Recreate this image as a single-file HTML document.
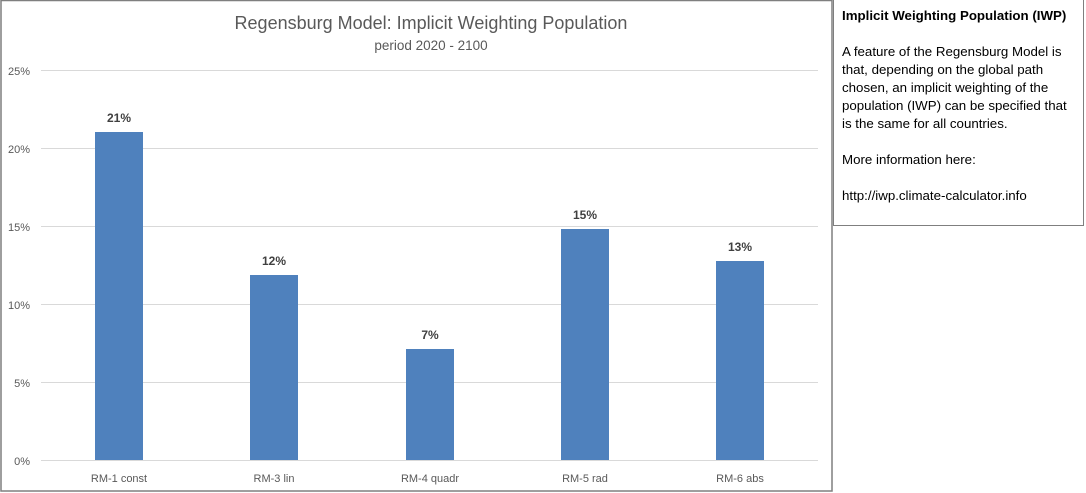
<!DOCTYPE html>
<html><head><style>
html,body{margin:0;padding:0;background:#fff;}
body{width:1086px;height:493px;position:relative;overflow:hidden;font-family:"Liberation Sans",sans-serif;}
.box{position:absolute;left:833px;top:0;width:251px;height:226px;border:1px solid #7f7f7f;border-top:none;box-sizing:border-box;font-size:13.3px;color:#000;padding:7px 8px;line-height:18px;}
</style></head><body>
<svg width="1086" height="493" style="position:absolute;left:0;top:0" font-family="Liberation Sans, sans-serif">
<rect x="1" y="0.5" width="831" height="490.5" fill="#fff" stroke="#7f7f7f" stroke-width="1.5"/>
<text x="431" y="29" text-anchor="middle" font-size="18" fill="#595959">Regensburg Model: Implicit Weighting Population</text>
<text x="431" y="50" text-anchor="middle" font-size="13.5" fill="#595959">period 2020 - 2100</text>
<g stroke="#d9d9d9" stroke-width="1">
<line x1="41" x2="818" y1="70.5" y2="70.5"/>
<line x1="41" x2="818" y1="148.5" y2="148.5"/>
<line x1="41" x2="818" y1="226.5" y2="226.5"/>
<line x1="41" x2="818" y1="304.5" y2="304.5"/>
<line x1="41" x2="818" y1="382.5" y2="382.5"/>
<line x1="41" x2="818" y1="460.5" y2="460.5"/>
</g>
<g font-size="11" fill="#595959" text-anchor="end">
<text x="30" y="75">25%</text><text x="30" y="153">20%</text><text x="30" y="231">15%</text>
<text x="30" y="309">10%</text><text x="30" y="387">5%</text><text x="30" y="465">0%</text>
</g>
<g fill="#4f81bd">
<rect x="95" y="132" width="48" height="328"/>
<rect x="250" y="275" width="48" height="185"/>
<rect x="406" y="349" width="48" height="111"/>
<rect x="561" y="229" width="48" height="231"/>
<rect x="716" y="261" width="48" height="199"/>
</g>
<g font-size="12" font-weight="bold" fill="#404040" text-anchor="middle">
<text x="119" y="122">21%</text><text x="274" y="265">12%</text><text x="430" y="339">7%</text>
<text x="585" y="219">15%</text><text x="740" y="251">13%</text>
</g>
<g font-size="11" fill="#595959" text-anchor="middle">
<text x="119" y="482">RM-1 const</text><text x="274" y="482">RM-3 lin</text><text x="430" y="482">RM-4 quadr</text>
<text x="585" y="482">RM-5 rad</text><text x="740" y="482">RM-6 abs</text>
</g>
</svg>
<div class="box"><b>Implicit Weighting Population (IWP)</b><br><br>A feature of the Regensburg Model is that, depending on the global path chosen, an implicit weighting of the population (IWP) can be specified that is the same for all countries.<br><br>More information here:<br><br>http://iwp.climate-calculator.info</div>
</body></html>
